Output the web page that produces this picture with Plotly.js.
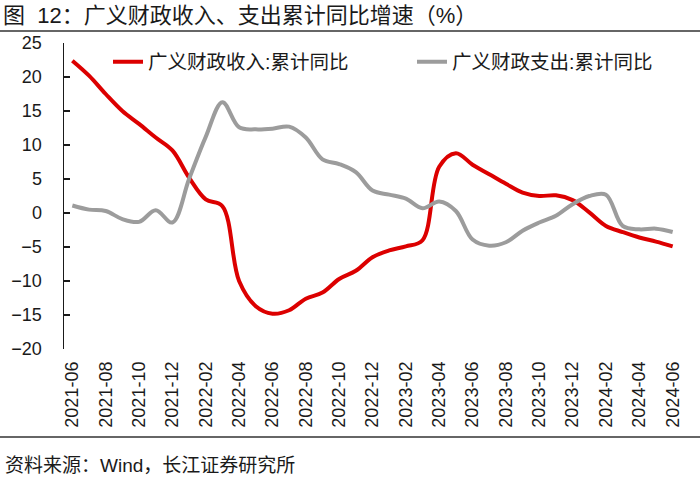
<!DOCTYPE html>
<html>
<head>
<meta charset="utf-8">
<script src="https://cdn.plot.ly/plotly-3.0.1.min.js"></script>
<style>
  html, body { margin: 0; padding: 0; background: #fff; }
  #chart { width: 700px; height: 478px; }
</style>
</head>
<body>
<div id="chart"></div>
<script>
// months on the x axis, 2021-06 .. 2024-06
var months = [
  '2021-06', '2021-07', '2021-08', '2021-09', '2021-10', '2021-11', '2021-12',
  '2022-01', '2022-02', '2022-03', '2022-04', '2022-05', '2022-06', '2022-07',
  '2022-08', '2022-09', '2022-10', '2022-11', '2022-12', '2023-01', '2023-02',
  '2023-03', '2023-04', '2023-05', '2023-06', '2023-07', '2023-08', '2023-09',
  '2023-10', '2023-11', '2023-12', '2024-01', '2024-02', '2024-03', '2024-04',
  '2024-05', '2024-06'
];

// 广义财政收入:累计同比 (%)
var revenue = [
  22.4, 20.2, 17.5, 15.0, 13.1, 11.1, 9.2,
  5.2, 2.0, 1.0, -10.0, -13.7, -14.8, -14.3,
  -12.6, -11.7, -9.7, -8.5, -6.5, -5.5, -4.9,
  -4.0, 6.8, 8.8, 7.1, 5.7, 4.3, 3.0,
  2.5, 2.6, 1.9, 0.1, -1.9, -2.8, -3.6,
  -4.2, -4.9
];

// 广义财政支出:累计同比 (%)
var expenditure = [
  1.1, 0.5, 0.3, -0.9, -1.3, 0.4, -1.4,
  5.0, 11.2, 16.3, 12.6, 12.3, 12.4, 12.7,
  11.1, 7.9, 7.2, 6.0, 3.3, 2.7, 2.1,
  0.7, 1.7, 0.3, -3.9, -4.8, -4.3, -2.6,
  -1.4, -0.4, 1.3, 2.5, 2.7, -1.9, -2.4,
  -2.3, -2.8
];

// labels every second month, small ticks between them
var labelIdx = [];
var labelText = [];
var tickIdx = [];
months.forEach(function(m, i) {
  if (i % 2 === 0) {
    labelIdx.push(i);
    labelText.push(m);
  } else {
    tickIdx.push(i + 0.5);
  }
});
var xIdx = months.map(function(m, i) { return i; });

var latin = 'Liberation Sans, Arial, Noto Sans CJK SC, sans-serif';
var cjk = 'Liberation Sans, Noto Sans CJK SC, sans-serif';

var revenueTrace = {
  x: xIdx,
  y: revenue,
  name: '广义财政收入:累计同比',
  type: 'scatter',
  mode: 'lines',
  line: { color: '#DC0000', width: 4, shape: 'spline', smoothing: 1 },
  legend: 'legend'
};

var expenditureTrace = {
  x: xIdx,
  y: expenditure,
  name: '广义财政支出:累计同比',
  type: 'scatter',
  mode: 'lines',
  line: { color: '#9C9C9C', width: 4, shape: 'spline', smoothing: 1 },
  legend: 'legend2'
};

var plotW = 617, plotH = 306, marginL = 64, marginT = 43;
function px(x) { return (x - marginL) / plotW; }
function py(y) { return (marginT + plotH - y) / plotH; }

var layout = {
  width: 700,
  height: 478,
  margin: { l: marginL, r: 19, t: marginT, b: 129 },
  paper_bgcolor: '#fff',
  plot_bgcolor: '#fff',
  showlegend: true,
  title: {
    text: '图  12：广义财政收入、支出累计同比增速（%）',
    font: { family: cjk, size: 22, color: '#1a1a1a' },
    x: 3 / 700,
    xref: 'container',
    xanchor: 'left',
    y: 1 - 15 / 478,
    yref: 'container',
    yanchor: 'middle'
  },
  xaxis: {
    range: [-0.5, 36.5],
    tickmode: 'array',
    tickvals: labelIdx,
    ticktext: labelText,
    tickangle: -90,
    ticks: '',
    ticklabelstandoff: 8,
    showline: false,
    showgrid: false,
    zeroline: false,
    tickfont: { family: latin, size: 18, color: '#1a1a1a' }
  },
  xaxis2: {
    overlaying: 'x',
    matches: 'x',
    anchor: 'free',
    position: 20 / 45,
    side: 'bottom',
    tickmode: 'array',
    tickvals: tickIdx,
    ticks: 'inside',
    ticklen: 5,
    tickwidth: 1.5,
    tickcolor: '#1a1a1a',
    showticklabels: false,
    showline: true,
    linecolor: '#1a1a1a',
    linewidth: 1.5,
    showgrid: false,
    zeroline: false
  },
  yaxis: {
    range: [-20, 25],
    dtick: 5,
    tick0: 0,
    ticks: 'inside',
    ticklen: 6,
    tickwidth: 1.5,
    tickcolor: '#1a1a1a',
    showline: true,
    linecolor: '#1a1a1a',
    linewidth: 1.5,
    showgrid: false,
    zeroline: false,
    ticklabelstandoff: 17,
    tickfont: { family: latin, size: 18, color: '#1a1a1a' }
  },
  legend: {
    orientation: 'h',
    x: px(108),
    xanchor: 'left',
    y: py(62),
    yanchor: 'middle',
    bgcolor: 'rgba(0,0,0,0)',
    font: { family: cjk, size: 19.5, color: '#1a1a1a' }
  },
  legend2: {
    orientation: 'h',
    x: px(412),
    xanchor: 'left',
    y: py(62),
    yanchor: 'middle',
    bgcolor: 'rgba(0,0,0,0)',
    font: { family: cjk, size: 19.5, color: '#1a1a1a' }
  },
  shapes: [
    {
      type: 'line', xref: 'paper', yref: 'paper',
      x0: px(0), x1: px(700), y0: py(31), y1: py(31),
      line: { color: '#333', width: 1.5 }
    },
    {
      type: 'line', xref: 'paper', yref: 'paper',
      x0: px(0), x1: px(700), y0: py(437), y1: py(437),
      line: { color: '#333', width: 1.5 }
    }
  ],
  annotations: [
    {
      text: '资料来源：Wind，长江证券研究所',
      xref: 'paper', yref: 'paper',
      x: px(3), y: py(465),
      xanchor: 'left', yanchor: 'middle',
      showarrow: false,
      font: { family: cjk, size: 19, color: '#1a1a1a' }
    }
  ]
};

Plotly.newPlot('chart', [revenueTrace, expenditureTrace], layout, { displayModeBar: false, staticPlot: true });
</script>
</body>
</html>
